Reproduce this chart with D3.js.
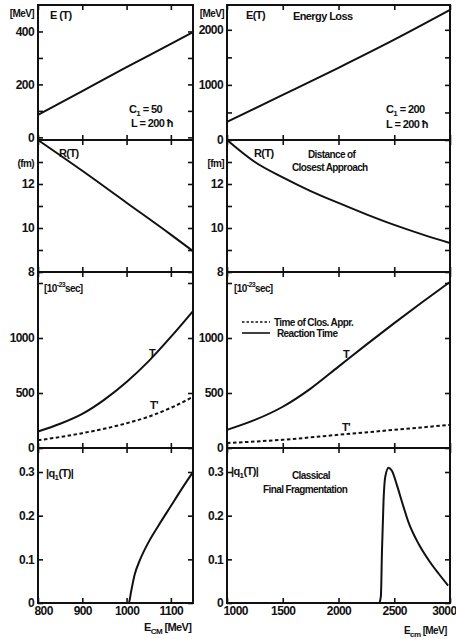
<!DOCTYPE html>
<html>
<head>
<meta charset="utf-8">
<script src="https://cdn.jsdelivr.net/npm/d3@7"></script>
<style>
  html, body { margin: 0; padding: 0; background: #fff; }
  svg { display: block; }
  text { font-family: "Liberation Sans", Arial, sans-serif; font-weight: bold; fill: #111; }
  .tick text { font-size: 12px; letter-spacing: -0.6px; }
  .ann { font-size: 11px; letter-spacing: -0.6px; }
  .small { font-size: 10px; letter-spacing: -0.6px; }
</style>
</head>
<body>
<svg id="chart" width="456" height="639"></svg>
<script>
// ---- x axes (E_cm in MeV) ----
const xLeftDomain = [800, 1150];
const xRightDomain = [1000, 3000];
const xLeftTicks = [800, 900, 1000, 1100];
const xRightTicks = [1000, 1500, 2000, 2500, 3000];

// ---- Energy loss E(T) [MeV] ----
const energyLeft = [[800, 85], [900, 175], [1000, 265], [1100, 353], [1150, 398]];
const energyRight = [[1000, 330], [1500, 818], [2000, 1310], [2500, 1820], [3000, 2360]];
const energyLeftTicks = [0, 100, 200, 300, 400];
const energyLeftLabels = [0, 200, 400];
const energyRightTicks = [0, 500, 1000, 1500, 2000];
const energyRightLabels = [0, 1000, 2000];

// ---- Distance of closest approach R(T) [fm] ----
const radiusLeft = [[800, 14.0], [900, 12.6], [1000, 11.15], [1100, 9.7], [1150, 8.95]];
const radiusRight = [[1000, 14.0], [1250, 13.0], [1500, 12.3], [1750, 11.68], [2000, 11.14],
                     [2250, 10.62], [2500, 10.14], [2750, 9.71], [3000, 9.32]];
const radiusTicks = [8, 9, 10, 11, 12, 13];
const radiusLabels = [8, 10, 12];

// ---- Times [10^-23 sec]: reaction time T and time of closest approach T' ----
const reactionLeft = [[800, 150], [850, 220], [900, 310], [950, 440], [1000, 600],
                      [1050, 790], [1100, 1010], [1150, 1245]];
const closestLeft = [[800, 70], [900, 135], [1000, 225], [1050, 285], [1100, 365], [1150, 465]];
const reactionRight = [[1000, 165], [1250, 255], [1500, 375], [1750, 540], [2000, 740],
                       [2250, 940], [2500, 1135], [2750, 1325], [3000, 1510]];
const closestRight = [[1000, 45], [1500, 75], [2000, 120], [2500, 165], [3000, 210]];
const timeTicks = [0, 500, 1000, 1500];
const timeLabels = [0, 500, 1000];

// ---- Final fragmentation |q1(T)| ----
const fragLeft = [[800, 0], [900, 0], [1005, 0], [1010, 0.025], [1018, 0.064], [1030, 0.098],
                  [1050, 0.14], [1075, 0.182], [1100, 0.222], [1125, 0.262], [1150, 0.30]];
const fragRight = [[1000, 0], [1500, 0], [2000, 0], [2365, 0], [2380, 0.015], [2390, 0.12],
                   [2404, 0.235], [2420, 0.29], [2449, 0.31], [2479, 0.303], [2524, 0.27],
                   [2569, 0.232], [2629, 0.184], [2719, 0.135], [2809, 0.098], [2899, 0.067],
                   [2983, 0.04]];
const fragTicks = [0, 0.1, 0.2, 0.3];
const fragLabels = ["0", "0.1", "0.2", "0.3"];

const svg = d3.select("#chart");

const cols = [
  { x: d3.scaleLinear().domain(xLeftDomain).range([38, 193]), ticks: xLeftTicks },
  { x: d3.scaleLinear().domain(xRightDomain).range([227, 450]), ticks: xRightTicks }
];
const rows = [
  { top: 5, bottom: 140 },
  { top: 140, bottom: 272 },
  { top: 272, bottom: 448 },
  { top: 448, bottom: 603 }
];

const line = (x, y) => d3.line().curve(d3.curveMonotoneX).x(d => x(d[0])).y(d => y(d[1]));

function panel(col, row, yDomain, yTicks, fmt) {
  const c = cols[col], r = rows[row];
  const x = c.x;
  const y = d3.scaleLinear().domain(yDomain).range([r.bottom, r.top]);
  const g = svg.append("g");
  const [x0, x1] = x.range();
  // inward ticks on all four sides
  g.append("g").attr("transform", `translate(${x0},0)`)
    .call(d3.axisLeft(y).tickValues(yTicks).tickSizeInner(-5).tickSizeOuter(0).tickPadding(4).tickFormat(fmt));
  g.append("g").attr("transform", `translate(${x1},0)`)
    .call(d3.axisRight(y).tickValues(yTicks).tickSizeInner(-5).tickSizeOuter(0).tickFormat(""));
  g.append("g").attr("transform", `translate(0,${r.top})`)
    .call(d3.axisTop(x).tickValues(c.ticks).tickSizeInner(-5).tickSizeOuter(0).tickFormat(""));
  const bottom = g.append("g").attr("transform", `translate(0,${r.bottom})`)
    .call(d3.axisBottom(x).tickValues(c.ticks).tickSizeInner(-5).tickSizeOuter(0)
      .tickFormat(row === 3 ? d3.format("d") : ""));
  if (row === 3) {
    // first label starts at the origin, last one ends at the page edge
    const labels = bottom.selectAll(".tick text");
    labels.filter((d, i) => i === 0).attr("text-anchor", "start").attr("dx", -4);
    labels.filter((d, i, n) => i === n.length - 1 && col === 1).attr("text-anchor", "end").attr("dx", 6);
  }
  g.selectAll(".domain").remove();
  g.selectAll(".tick line").attr("stroke", "#111").attr("stroke-width", 1.6);
  g.append("rect").attr("x", x0).attr("y", r.top).attr("width", x1 - x0).attr("height", r.bottom - r.top)
    .attr("fill", "none").attr("stroke", "#111").attr("stroke-width", 2);
  return { g, x, y };
}

function curve(p, data, dashed) {
  p.g.append("path").datum(data).attr("d", line(p.x, p.y))
    .attr("fill", "none").attr("stroke", "#111").attr("stroke-width", 2)
    .attr("stroke-dasharray", dashed ? "3.5,2.5" : null);
}

const labelIf = list => v => list.includes(v) ? String(v) : "";
const fragFmt = v => { const i = fragTicks.indexOf(v); return fragLabels[i]; };

// Energy loss
const eL = panel(0, 0, [-10, 500], energyLeftTicks, labelIf(energyLeftLabels));
curve(eL, energyLeft);
const eR = panel(1, 0, [0, 2450], energyRightTicks, labelIf(energyRightLabels));
curve(eR, energyRight);

// Distance of closest approach
const rL = panel(0, 1, [8, 14], radiusTicks, labelIf(radiusLabels));
curve(rL, radiusLeft);
const rR = panel(1, 1, [8, 14], radiusTicks, labelIf(radiusLabels));
curve(rR, radiusRight);

// Times
const tL = panel(0, 2, [0, 1600], timeTicks, labelIf(timeLabels));
curve(tL, reactionLeft);
curve(tL, closestLeft, true);
const tR = panel(1, 2, [0, 1600], timeTicks, labelIf(timeLabels));
curve(tR, reactionRight);
curve(tR, closestRight, true);

// Fragmentation
const fL = panel(0, 3, [0, 0.355], fragTicks, fragFmt);
curve(fL, fragLeft);
const fR = panel(1, 3, [0, 0.355], fragTicks, fragFmt);
curve(fR, fragRight);

// ---- annotations ----
function txt(x, y, s, cls, anchor) {
  return svg.append("text").attr("x", x).attr("y", y).attr("class", cls || "ann")
    .attr("text-anchor", anchor || "start").text(s);
}
function sub(x, y, base, subscript, rest, cls) {
  const t = svg.append("text").attr("x", x).attr("y", y).attr("class", cls || "ann");
  t.append("tspan").text(base);
  t.append("tspan").attr("dy", 3).attr("font-size", "8px").text(subscript);
  t.append("tspan").attr("dy", -3).text(rest);
  return t;
}
function power(x, y, cls) {
  const t = svg.append("text").attr("x", x).attr("y", y).attr("class", cls);
  t.append("tspan").text("[10");
  t.append("tspan").attr("dy", -5).attr("font-size", "7px").text("-23");
  t.append("tspan").attr("dy", 5).text("sec]");
  return t;
}

// units
txt(34, 17, "[MeV]", "small", "end");
txt(224, 17, "[MeV]", "small", "end");
txt(34, 167, "(fm)", "small", "end");
txt(224, 167, "[fm]", "small", "end");
power(44, 292, "small");
power(234, 292, "small");

// panel titles
txt(50, 19, "E (T)");
txt(246, 19, "E(T)");
txt(293, 20, "Energy Loss");
sub(129, 113, "C", "1", " = 50");
txt(131, 127, "L = 200 ħ");
sub(386, 113, "C", "1", " = 200");
txt(386, 128, "L = 200 ħ");

txt(59, 157, "R(T)");
txt(254, 157, "R(T)");
txt(308, 158, "Distance of", "small");
txt(292, 171, "Closest Approach", "small");

// curve labels
txt(149, 357, "T");
txt(150, 409, "T'");
txt(343, 358, "T");
txt(342, 431, "T'");

// legend
tR.g.append("line").attr("x1", 242).attr("x2", 270).attr("y1", 322).attr("y2", 322)
  .attr("stroke", "#111").attr("stroke-width", 1.6).attr("stroke-dasharray", "2.5,2");
txt(274, 326, "Time of Clos. Appr.", "small");
tR.g.append("line").attr("x1", 242).attr("x2", 270).attr("y1", 333).attr("y2", 333)
  .attr("stroke", "#111").attr("stroke-width", 1.6);
txt(277, 337, "Reaction Time", "small");

// fragmentation
sub(46, 477, "|q", "1", "(T)|");
sub(231, 475, "|q", "1", "(T)|");
txt(292, 479, "Classical", "small");
txt(263, 493, "Final Fragmentation", "small");

// x axis titles
sub(144, 631, "E", "CM", " [MeV]");
sub(404, 634, "E", "cm", " [MeV]", "small");
</script>
</body>
</html>
